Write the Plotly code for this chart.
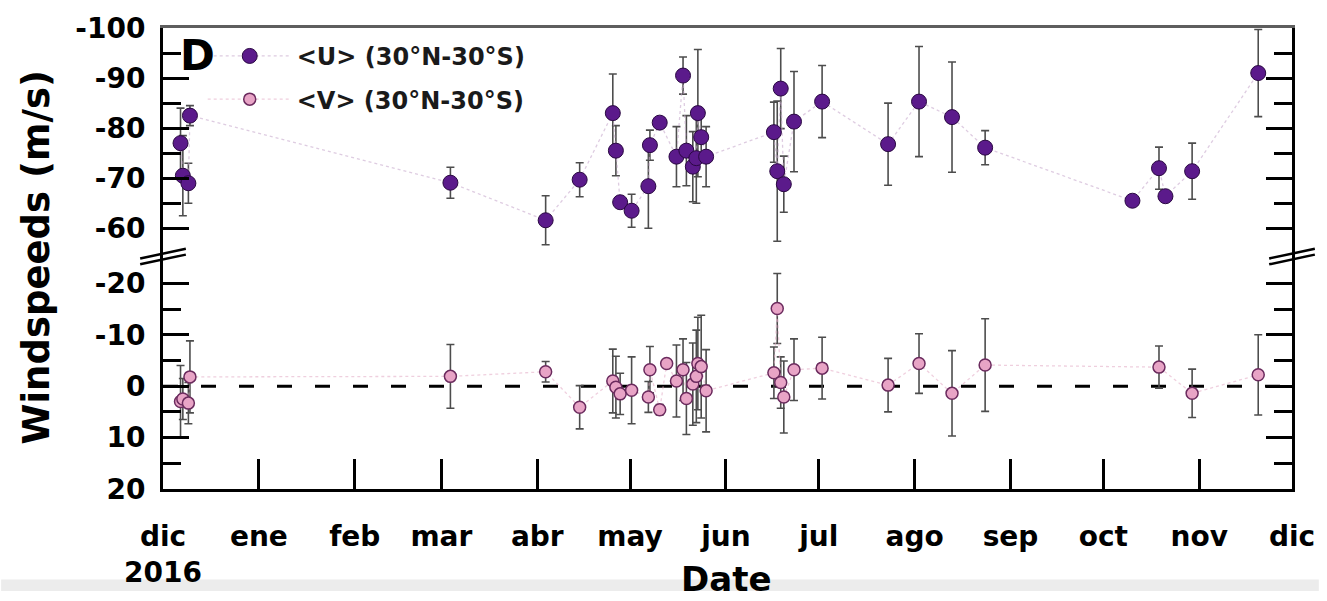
import plotly.graph_objects as go

# Monthly ticks of the date axis (Spanish month abbreviations)
month_ticks = ["2016-12-01", "2017-01-01", "2017-02-01", "2017-03-01", "2017-04-01",
               "2017-05-01", "2017-06-01", "2017-07-01", "2017-08-01", "2017-09-01",
               "2017-10-01", "2017-11-01", "2017-12-01"]
month_labels = ["dic<br>2016", "ene", "feb", "mar", "abr", "may", "jun", "jul",
                "ago", "sep", "oct", "nov", "dic"]

# Tick values of the two halves of the broken speed axis
upper_ticks = [-100, -90, -80, -70, -60]
upper_minor = [-95, -85, -75, -65]
lower_ticks = [-20, -10, 0, 10, 20]
lower_minor = [-15, -5, 5, 15]

# Zonal wind <U> averaged over 30°N-30°S (m/s)
u_dates = ["2016-12-06 16:00", "2016-12-07 10:00", "2016-12-09 05:00", "2016-12-09 17:00",
           "2017-03-03 22:00", "2017-04-03 17:00", "2017-04-14 17:00", "2017-04-25 10:00",
           "2017-04-26 10:00", "2017-04-27 19:00", "2017-05-01 12:00", "2017-05-06 22:00",
           "2017-05-07 10:00", "2017-05-10 14:00", "2017-05-16 00:00", "2017-05-18 03:00",
           "2017-05-19 05:00", "2017-05-21 07:00", "2017-05-22 10:00", "2017-05-22 22:00",
           "2017-05-24 00:00", "2017-05-25 14:00", "2017-06-16 12:00", "2017-06-17 14:00",
           "2017-06-18 17:00", "2017-06-19 17:00", "2017-06-23 00:00", "2017-07-02 02:00",
           "2017-07-23 10:00", "2017-08-02 10:00", "2017-08-13 02:00", "2017-08-23 19:00",
           "2017-10-10 10:00", "2017-10-19 00:00", "2017-10-21 02:00", "2017-10-29 17:00",
           "2017-11-20 02:00"]
u_speed = [-77.0, -70.5, -69.0, -82.5,
           -69.1, -61.6, -69.7, -83.0,
           -75.5, -65.2, -63.5, -68.4,
           -76.6, -81.1, -74.3, -90.5,
           -75.5, -72.3, -74.0, -83.0,
           -78.2, -74.3, -79.2, -71.4,
           -87.9, -68.8, -81.3, -85.3,
           -76.8, -85.3, -82.2, -76.1,
           -65.5, -72.0, -66.4, -71.4,
           -91.0]
u_error = [7.0, 8.0, 4.0, 2.0,
           3.1, 4.9, 3.4, 7.8,
           5.0, 0.8, 3.3, 8.4,
           3.0, 0.0, 6.0, 3.7,
           7.0, 7.0, 9.0, 12.7,
           5.0, 6.0, 6.0, 14.0,
           8.0, 5.6, 10.0, 7.2,
           8.2, 11.0, 11.0, 3.4,
           0.0, 4.2, 0.0, 5.6,
           8.7]

# Meridional wind <V> averaged over 30°N-30°S (m/s)
v_dates = ["2016-12-06 16:00", "2016-12-07 10:00", "2016-12-09 05:00", "2016-12-09 17:00",
           "2017-03-03 22:00", "2017-04-03 17:00", "2017-04-14 17:00", "2017-04-25 10:00",
           "2017-04-26 10:00", "2017-04-27 19:00", "2017-05-01 12:00", "2017-05-06 22:00",
           "2017-05-07 10:00", "2017-05-10 14:00", "2017-05-12 20:00", "2017-05-16 00:00",
           "2017-05-18 03:00", "2017-05-19 05:00", "2017-05-21 07:00", "2017-05-22 10:00",
           "2017-05-22 22:00", "2017-05-24 00:00", "2017-05-25 14:00", "2017-06-16 12:00",
           "2017-06-17 14:00", "2017-06-18 17:00", "2017-06-19 17:00", "2017-06-23 00:00",
           "2017-07-02 02:00", "2017-07-23 10:00", "2017-08-02 10:00", "2017-08-13 02:00",
           "2017-08-23 19:00", "2017-10-19 00:00", "2017-10-29 17:00", "2017-11-20 02:00"]
v_speed = [3.0, 2.5, 3.3, -1.8,
           -1.9, -2.8, 4.1, -1.0,
           0.2, 1.5, 0.8, 2.1,
           -3.2, 4.6, -4.4, -1.0,
           -3.2, 2.4, -0.4, -1.9,
           -4.4, -3.8, 0.9, -2.6,
           -15.1, -0.7, 2.1, -3.2,
           -3.5, -0.2, -4.4, 1.4,
           -4.1, -3.7, 1.4, -2.2]
v_error = [7.0, 4.0, 4.0, 7.0,
           6.2, 2.0, 4.2, 6.2,
           6.0, 4.0, 6.5, 3.0,
           4.5, 1.0, 0.0, 7.0,
           6.0, 7.0, 8.0, 9.0,
           9.0, 10.0, 8.0, 5.0,
           6.8, 5.0, 7.0, 6.0,
           6.0, 5.2, 5.8, 8.3,
           9.0, 4.1, 4.7, 7.8]

FONT = "DejaVu Sans"
U_FILL, U_EDGE = "#5b1a8b", "#2a0842"
V_FILL, V_EDGE = "#e8a4c6", "#6b2b5e"
ERR = "#4d4d4d"

W, H = 1327, 601
L, R, T, B = 163, 27, 24, 103
plot_w, plot_h = W - L - R, H - T - B
split_px = 259  # vertical pixel where the broken axis changes scale
split = (H - B - split_px) / plot_h


def px_x(p):
    return (p - L) / plot_w


def px_y(p):
    return (H - B - p) / plot_h


fig = go.Figure()

fig.add_trace(go.Scatter(
    x=u_dates, y=u_speed, xaxis="x", yaxis="y",
    mode="lines+markers", name="&lt;U&gt; (30°N-30°S)",
    legendgroup="u",
    line=dict(color="rgba(200,170,205,0.6)", width=1.3, dash="dot"),
    marker=dict(size=15, color=U_FILL, line=dict(color=U_EDGE, width=1)),
    error_y=dict(type="data", array=u_error, visible=True,
                 color=ERR, thickness=1.6, width=4),
))

fig.add_trace(go.Scatter(
    x=v_dates, y=v_speed, xaxis="x2", yaxis="y2",
    mode="lines+markers", name="&lt;V&gt; (30°N-30°S)",
    legendgroup="v",
    line=dict(color="rgba(228,175,200,0.6)", width=1.3, dash="dot"),
    marker=dict(size=12, color=V_FILL, line=dict(color=V_EDGE, width=1.5)),
    error_y=dict(type="data", array=v_error, visible=True,
                 color=ERR, thickness=1.6, width=4),
))

tick_font = dict(family=FONT, size=28, color="black", weight="bold")
date_range = [month_ticks[0], month_ticks[-1]]

yaxis_common = dict(
    showgrid=False, zeroline=False, showline=True, linecolor="black", linewidth=3,
    mirror="ticks", ticks="inside", ticklen=26, tickwidth=3, tickcolor="black",
    tickfont=tick_font, ticklabelstandoff=9, tickmode="array",
)
minor_common = dict(tickmode="array", ticks="inside", ticklen=18, tickwidth=3,
                    tickcolor="black", showgrid=False)

shapes = [
    # zero reference line of <V>
    dict(type="line", xref="x2 domain", x0=0, x1=1, yref="y2", y0=0, y1=0,
         line=dict(color="black", width=3, dash="15px,23px"), layer="below"),
    # faint strip along the bottom of the page
    dict(type="rect", xref="paper", yref="paper", x0=px_x(0), x1=px_x(W),
         y0=px_y(591), y1=px_y(H + 2), fillcolor="#ececec", line=dict(width=0),
         layer="below"),
]
# axis break marks on both vertical axes
for cx in (L, W - R):
    for dy in (-3, 3):
        shapes.append(dict(type="line", xref="paper", yref="paper",
                           x0=px_x(cx - 23), y0=px_y(split_px + dy + 5),
                           x1=px_x(cx + 23), y1=px_y(split_px + dy - 5),
                           line=dict(color="black", width=2.5)))

fig.update_layout(
    width=W, height=H,
    margin=dict(l=L, r=R, t=T, b=B),
    paper_bgcolor="white", plot_bgcolor="white",
    font=dict(family=FONT, color="black", weight="bold"),
    xaxis=dict(domain=[0, 1], anchor="y", side="top", matches="x2", type="date",
               range=date_range, showgrid=False, zeroline=False,
               showline=True, linecolor="#5e5e5e", linewidth=3,
               ticks="", showticklabels=False),
    xaxis2=dict(domain=[0, 1], anchor="y2", type="date", range=date_range,
                showgrid=False, zeroline=False, showline=True, linecolor="black",
                linewidth=3, ticks="inside", ticklen=30, tickwidth=3, tickcolor="black",
                tickmode="array", tickvals=month_ticks, ticktext=month_labels,
                tickfont=tick_font, ticklabelstandoff=20),
    yaxis=dict(domain=[split, 1], anchor="x", range=[-54.35, -100],
               tickvals=upper_ticks, ticktext=[str(v) for v in upper_ticks],
               minor=dict(tickvals=upper_minor, **minor_common),
               **yaxis_common),
    yaxis2=dict(domain=[0, split], anchor="x2", range=[20, -25.2],
                tickvals=lower_ticks, ticktext=[str(v) for v in lower_ticks],
                minor=dict(tickvals=lower_minor, **minor_common),
                **yaxis_common),
    legend=dict(x=px_x(203), y=px_y(30), xanchor="left", yanchor="top",
                bgcolor="rgba(0,0,0,0)", borderwidth=0, itemwidth=84,
                font=dict(family=FONT, size=24, color="#1a1a1a", weight="bold"),
                traceorder="grouped", tracegroupgap=9),
    showlegend=True,
    shapes=shapes,
    annotations=[
        dict(text="D", xref="paper", yref="paper", x=px_x(198), y=px_y(52),
             xanchor="center", yanchor="middle", showarrow=False,
             font=dict(family=FONT, size=42, color="black", weight="bold")),
        dict(text="Windspeeds (m/s)", xref="paper", yref="paper", x=px_x(36), y=px_y(260),
             xanchor="center", yanchor="middle", textangle=-90, showarrow=False,
             font=dict(family=FONT, size=37, color="black", weight="bold")),
        dict(text="Date", xref="paper", yref="paper", x=px_x(730), y=px_y(591),
             xanchor="center", yanchor="middle", showarrow=False,
             font=dict(family=FONT, size=34, color="black", weight="bold")),
    ],
)

fig.write_html("out.html")
